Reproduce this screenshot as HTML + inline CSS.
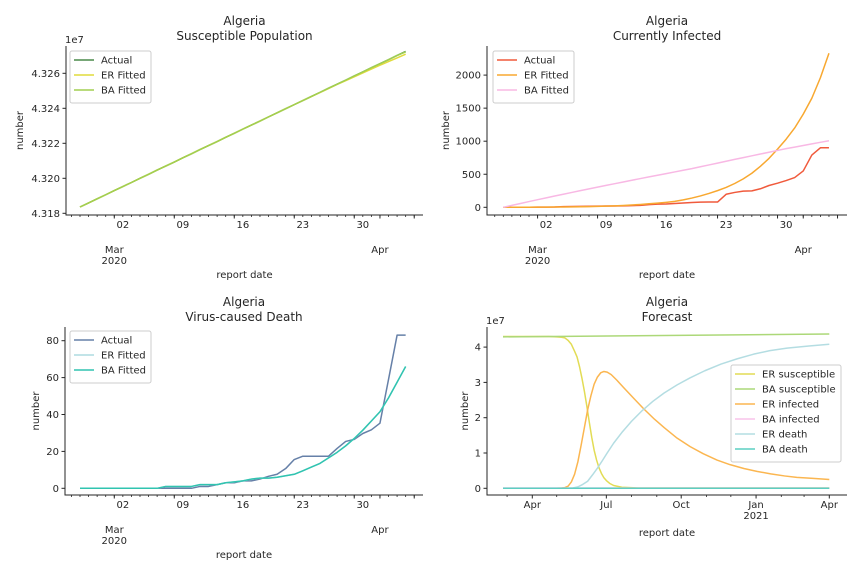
<!DOCTYPE html>
<html><head><meta charset="utf-8"><style>
body{margin:0;background:#fff}
svg{display:block;font-family:"DejaVu Sans","Liberation Sans",sans-serif}
text{fill:#262626}
</style></head><body>
<svg id="fig" width="864" height="576" viewBox="0 0 864 576"></svg>
<script>
// ---- data (index 0 = 2020-02-26) ----
const susActual=[4.31836,4.31859,4.31883,4.31906,4.31930,4.31953,4.31976,4.32000,4.32023,4.32047,4.32070,4.32093,4.32117,4.32140,4.32164,4.32187,4.32210,4.32234,4.32257,4.32281,4.32304,4.32327,4.32351,4.32374,4.32398,4.32421,4.32444,4.32468,4.32491,4.32515,4.32538,4.32561,4.32585,4.32608,4.32632,4.32655,4.32678,4.32702,4.32725];
const susER=[4.31836,4.31859,4.31883,4.31906,4.31930,4.31953,4.31976,4.32000,4.32023,4.32047,4.32070,4.32093,4.32117,4.32140,4.32164,4.32187,4.32210,4.32234,4.32257,4.32281,4.32304,4.32327,4.32351,4.32374,4.32398,4.32421,4.32444,4.32467,4.32490,4.32513,4.32536,4.32558,4.32580,4.32602,4.32624,4.32646,4.32667,4.32688,4.32709];
const susBA=[4.31836,4.31859,4.31883,4.31906,4.31930,4.31953,4.31976,4.32000,4.32023,4.32047,4.32070,4.32093,4.32117,4.32140,4.32164,4.32187,4.32210,4.32234,4.32257,4.32281,4.32304,4.32327,4.32351,4.32374,4.32398,4.32421,4.32444,4.32468,4.32491,4.32515,4.32538,4.32561,4.32585,4.32608,4.32632,4.32655,4.32678,4.32702,4.32722];
const infActual=[1,1,1,1,2,3,5,10,12,14,15,17,19,20,22,25,30,40,48,50,58,65,72,78,80,80,197,225,245,248,280,330,365,405,450,550,790,900,900];
const infER=[0,0,1,1,2,3,4,5,7,9,11,14,18,22,28,35,43,53,63,75,90,112,140,172,210,252,300,360,430,515,620,740,880,1030,1200,1410,1650,1960,2330];
const infBA=[0,29,58,87,115,143,171,198,225,252,279,305,331,357,383,409,435,460,485,510,535,560,585,613,641,669,697,725,752,779,806,833,860,887,911,935,959,983,1007];
const dthActual=[0,0,0,0,0,0,0,0,0,0,0,0,0,0,1,1,2,3,3,4,4,5,6.5,7.6,10.7,15.6,17.4,17.4,17.4,17.4,21.6,25.4,26.5,29.7,31.7,35.3,59,83,83];
const dthER=[0,0,0,0,0,0,0,0,0,0,1,1,1,1,2,2,2,3,3.5,4,5,5.5,5.5,6,6.8,7.6,9.5,11.5,13.5,16.5,19.5,23,27,31.5,36.5,41.5,49,57.5,66];
const dthBA=[0,0,0,0,0,0,0,0,0,0,1,1,1,1,2,2,2,3,3.5,4,5,5.5,5.5,6,6.8,7.6,9.5,11.5,13.5,16.5,19.5,23,27,31.5,36.5,41.5,49,57.5,66];
// forecast (days since 2020-04-01, values in 1e7)
const fcDaysERs=[-36,20,30,36,40,44,48,52,55,58,61,64,67,70,73,76,79,82,85,88,91,95,100,110,130,365];
const fcERsus=[4.30,4.30,4.29,4.28,4.26,4.19,4.08,3.88,3.72,3.45,3.12,2.75,2.33,1.88,1.45,1.08,0.80,0.58,0.42,0.30,0.22,0.14,0.08,0.03,0.01,0.01];
const fcDaysERi=[-36,30,36,40,44,48,52,56,60,64,68,72,76,80,84,88,92,97,104,112,125,137,150,162,178,194,210,227,243,260,276,293,310,325,345,365];
const fcERinf=[0,0,0.01,0.02,0.06,0.18,0.40,0.75,1.22,1.72,2.22,2.62,2.95,3.15,3.27,3.31,3.29,3.22,3.06,2.86,2.54,2.25,1.96,1.72,1.42,1.18,0.98,0.80,0.67,0.56,0.48,0.41,0.35,0.31,0.28,0.25];
const fcDaysERd=[-36,40,50,56,62,68,74,80,86,92,100,110,122,135,148,162,178,194,212,232,252,272,292,313,340,365];
const fcERdth=[0,0,0.01,0.04,0.11,0.20,0.38,0.57,0.78,1.00,1.28,1.58,1.90,2.20,2.46,2.70,2.93,3.13,3.33,3.52,3.67,3.80,3.90,3.97,4.03,4.08];
const fcDaysBA=[-36,365];
const fcBAsus=[4.29,4.37];
const fcBAinf=[0.01,0.01];
const fcBAdth=[0,0];
const dateTickLabels=["02","09","16","23","30"];
const dateTickIdx=[5,12,19,26,33];
const fcTickLabels=["Apr","Jul","Oct","Jan","Apr"];
const fcTickDays=[0,91,183,275,365];

const NS="http://www.w3.org/2000/svg";
const fig=document.getElementById('fig');
function el(tag,attrs,parent,txt){const e=document.createElementNS(NS,tag);for(const k in attrs)e.setAttribute(k,attrs[k]);if(txt!==undefined)e.textContent=txt;(parent||fig).appendChild(e);return e;}

function panel(cfg){
  const g=el('g',{});
  
  
  const {L,R,T,B}=cfg;
  const xs=cfg.xs, ys=cfg.ys;
  const t1=el('text',{x:(L+R)/2,y:T-21,'text-anchor':'middle','font-size':12},g,'Algeria');
  
  
  const t2=el('text',{x:(L+R)/2,y:T-6,'text-anchor':'middle','font-size':12},g,cfg.title);
  
  
  cfg.series.forEach(s=>{
    let d='';
    s.y.forEach((v,i)=>{d+=(i?'L':'M')+xs(s.x[i]).toFixed(2)+' '+ys(v).toFixed(2);});
    const p=el('path',{d:d,fill:'none',stroke:s.c,'stroke-width':1.5,'stroke-linejoin':'round'},g);
    
    
  });
  const sp=el('path',{d:`M${L} ${T}V${B}H${R}`,fill:'none',stroke:'#262626','stroke-width':1},g);
  
  
  cfg.yticks.forEach((v,i)=>{
    const y=ys(v);
    el('line',{x1:L-3.5,x2:L,y1:y,y2:y,stroke:'#262626'},g);
    const tl=el('text',{x:L-6,y:y+3.5,'text-anchor':'end','font-size':10},g,cfg.ylabels[i]);
    
    
  });
  const yl=el('text',{transform:`translate(${cfg.ylx},${(T+B)/2}) rotate(-90)`,'text-anchor':'middle','font-size':10},g,'number');
  
  
  if(cfg.offset){const o=el('text',{x:L-1,y:T-3,'font-size':10},g,cfg.offset);
    
    }
  cfg.minor.forEach(v=>el('line',{x1:xs(v),x2:xs(v),y1:B,y2:B+2,stroke:'#262626','stroke-width':0.8},g));
  cfg.major.forEach(v=>el('line',{x1:xs(v),x2:xs(v),y1:B,y2:B+3.5,stroke:'#262626'},g));
  cfg.xlabels.forEach(l=>{
    const tl=el('text',{x:l.x,y:l.y,'text-anchor':'middle','font-size':10},g,l.t);
    
    
  });
  const xl=el('text',{x:(L+R)/2,y:cfg.xly,'text-anchor':'middle','font-size':10},g,'report date');
  
  
  const lg=cfg.legend;
  const lgG=el('g',{},g);
  
  
  el('rect',{x:lg.x,y:lg.y,width:lg.w,height:10+15*cfg.series.length-3,rx:2,fill:'#fff','fill-opacity':0.8,stroke:'#ccc'},lgG);
  cfg.series.forEach((s,i)=>{
    const yy=lg.y+9+15*i;
    const e=el('g',{},lgG);
    
    
    el('line',{x1:lg.x+4,x2:lg.x+24,y1:yy,y2:yy,stroke:s.c,'stroke-width':1.5},e);
    el('text',{x:lg.x+31,y:yy+3.5,'font-size':10},e,s.n);
  });
}
const idx=susActual.map((_,i)=>i);
function dateCfg(L0){
  const xs=v=>L0+v*8.57;
  const minor=[];for(let i=-1;i<=39;i++)minor.push(i);
  const xlabels=dateTickIdx.map((d,i)=>({x:xs(d),t:dateTickLabels[i]}));
  return {xs,minor,major:[4,11,18,25,32,35,39],xlabels};
}
(function(){
  const L=66,R=423,T=46,B=215;const d=dateCfg(80);
  const ys=v=>213.3-(v-4.318)/0.002*35;
  const xlabels=d.xlabels.map(l=>({x:l.x,y:228,t:l.t})).concat([{x:d.xs(4),y:253,t:'Mar'},{x:d.xs(4),y:264,t:'2020'},{x:d.xs(35),y:253,t:'Apr'}]);
  panel({name:'susceptible-population-chart',L,R,T,B,xs:d.xs,ys,title:'Susceptible Population',
    series:[{n:'Actual',c:'#4a8a4a',x:idx,y:susActual},{n:'ER Fitted',c:'#e0db3c',x:idx,y:susER},{n:'BA Fitted',c:'#a2cf50',x:idx,y:susBA}],
    yticks:[4.318,4.320,4.322,4.324,4.326],ylabels:['4.318','4.320','4.322','4.324','4.326'],ylx:23,offset:'1e7',
    minor:d.minor,major:d.major,xlabels,xly:278,legend:{x:70,y:51,w:81}});
})();
(function(){
  const L=487,R=847,T=46,B=215;const d=dateCfg(503.3);
  const ys=v=>207.3-v*0.0661;
  const xlabels=d.xlabels.map(l=>({x:l.x,y:228,t:l.t})).concat([{x:d.xs(4),y:253,t:'Mar'},{x:d.xs(4),y:264,t:'2020'},{x:d.xs(35),y:253,t:'Apr'}]);
  panel({name:'currently-infected-chart',L,R,T,B,xs:d.xs,ys,title:'Currently Infected',
    series:[{n:'Actual',c:'#f05a3c',x:idx,y:infActual},{n:'ER Fitted',c:'#f8a830',x:idx,y:infER},{n:'BA Fitted',c:'#f8b8e4',x:idx,y:infBA}],
    yticks:[0,500,1000,1500,2000],ylabels:['0','500','1000','1500','2000'],ylx:449,
    minor:d.minor,major:d.major,xlabels,xly:278,legend:{x:493,y:51,w:81}});
})();
(function(){
  const L=65,R=423,T=327,B=495;const d=dateCfg(80);
  const ys=v=>488.3-v*1.845;
  const xlabels=d.xlabels.map(l=>({x:l.x,y:508,t:l.t})).concat([{x:d.xs(4),y:533,t:'Mar'},{x:d.xs(4),y:544,t:'2020'},{x:d.xs(35),y:533,t:'Apr'}]);
  panel({name:'virus-caused-death-chart',L,R,T,B,xs:d.xs,ys,title:'Virus-caused Death',
    series:[{n:'Actual',c:'#6680a8',x:idx,y:dthActual},{n:'ER Fitted',c:'#aedbe0',x:idx,y:dthER},{n:'BA Fitted',c:'#30c4b0',x:idx,y:dthBA}],
    yticks:[0,20,40,60,80],ylabels:['0','20','40','60','80'],ylx:39,
    minor:d.minor,major:d.major,xlabels,xly:558,legend:{x:70,y:331,w:81}});
})();
(function(){
  const L=487,R=847,T=327,B=495;
  const xs=v=>532.3+v*0.8137;
  const ys=v=>488.3-v*35.3;
  const minor=[-31,30,61,122,153,214,244,306,334];
  const xlabels=fcTickDays.map((d,i)=>({x:xs(d),y:508,t:fcTickLabels[i]})).concat([{x:xs(275),y:519,t:'2021'}]);
  panel({name:'forecast-chart',L,R,T,B,xs,ys,title:'Forecast',
    series:[{n:'ER susceptible',c:'#e2dc55',x:fcDaysERs,y:fcERsus},{n:'BA susceptible',c:'#acd878',x:fcDaysBA,y:fcBAsus},
      {n:'ER infected',c:'#fbb650',x:fcDaysERi,y:fcERinf},{n:'BA infected',c:'#f9c4ea',x:fcDaysBA,y:fcBAinf},
      {n:'ER death',c:'#b4dde2',x:fcDaysERd,y:fcERdth},{n:'BA death',c:'#5ccfc2',x:fcDaysBA,y:fcBAdth}],
    yticks:[0,1,2,3,4],ylabels:['0','1','2','3','4'],ylx:468,offset:'1e7',
    minor,major:fcTickDays,xlabels,xly:536,legend:{x:731,y:365,w:110}});
})();
</script>
</body></html>
